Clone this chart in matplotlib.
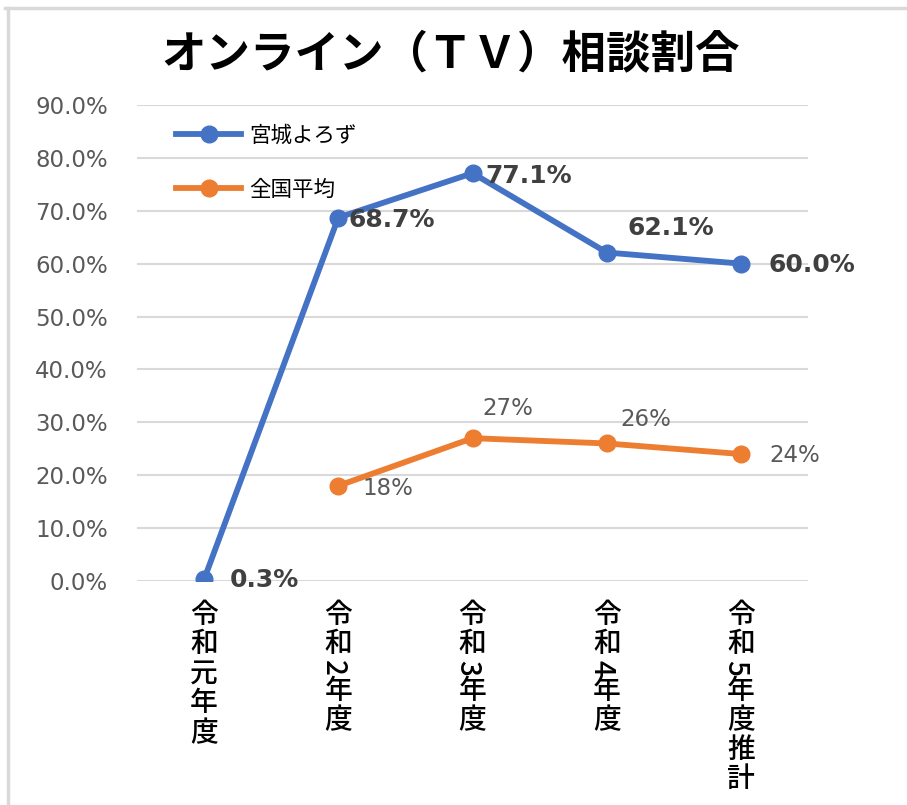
import matplotlib
matplotlib.use("Agg")
import matplotlib.pyplot as plt
from matplotlib.lines import Line2D
import numpy as np

plt.rcParams['font.family'] = ['Noto Sans CJK JP', 'DejaVu Sans']

categories = ["令和元年度", "令和2年度", "令和3年度", "令和4年度", "令和5年度推計"]
miyagi = [0.3, 68.7, 77.1, 62.1, 60.0]
zenkoku = [np.nan, 18, 27, 26, 24]
miyagi_labels = ["0.3%", "68.7%", "77.1%", "62.1%", "60.0%"]
zenkoku_labels = ["", "18%", "27%", "26%", "24%"]
yticks = [0, 10, 20, 30, 40, 50, 60, 70, 80, 90]

BLUE = "#4472C4"
ORANGE = "#ED7D31"
GRAY = "#595959"
PX = 0.72  # points per pixel at dpi 100

fig = plt.figure(figsize=(9.07, 8.05), dpi=100)
ax = fig.add_axes([0.151, 0.2783, 0.74, 0.5913])

x = np.arange(len(categories))
ax.plot(x, miyagi, color=BLUE, lw=4.2, marker='o', ms=12, label="宮城よろず", zorder=3)
ax.plot(x, zenkoku, color=ORANGE, lw=4.2, marker='o', ms=12, label="全国平均", zorder=3)

ax.set_xlim(-0.5, 4.5)
ax.set_ylim(0, 90)
ax.set_yticks(yticks)
ax.set_yticklabels([f"{v:.1f}%" for v in yticks], fontsize=16.5, color=GRAY,
                   family=['DejaVu Sans'])
ax.yaxis.grid(True, color="#D9D9D9", lw=1.5)
ax.set_axisbelow(True)
for s in ax.spines.values():
    s.set_visible(False)
ax.tick_params(length=0)
ax.tick_params(axis='y', pad=21)
ax.set_xticks(x)
ax.set_xticklabels([])

# vertical category labels: CJK upright, digits turned
for i, cat in enumerate(categories):
    y = -19
    for ch in cat:
        if ch.isdigit():
            ax.annotate(ch, (x[i], 0), xycoords=('data', 'axes fraction'),
                        xytext=(-5 * PX, (y - 8.5) * PX), textcoords='offset points',
                        ha='center', va='center', rotation=-90, fontsize=20,
                        fontweight='medium', color='black')
            y -= 17
        else:
            ax.annotate(ch, (x[i], 0), xycoords=('data', 'axes fraction'),
                        xytext=(0, (y - 14.5) * PX), textcoords='offset points',
                        ha='center', va='center', fontsize=20,
                        fontweight='medium', color='black')
            y -= 29.5

# data labels (pixel offsets from the marker)
blue_off = [(26, -1), (10, -2), (13, -3), (21, 25), (27, -1)]
for i, (v, t) in enumerate(zip(miyagi, miyagi_labels)):
    dx, dy = blue_off[i]
    ax.annotate(t, (x[i], v), xytext=(dx * PX, dy * PX), textcoords='offset points',
                ha='left', va='center', fontsize=18, fontweight='bold', color="#404040",
                family=['DejaVu Sans'])
orange_off = [None, (24, -3), (10, 30), (14, 24), (28, -1)]
for i, (v, t) in enumerate(zip(zenkoku, zenkoku_labels)):
    if orange_off[i] is None:
        continue
    dx, dy = orange_off[i]
    ax.annotate(t, (x[i], v), xytext=(dx * PX, dy * PX), textcoords='offset points',
                ha='left', va='center', fontsize=16.5, color=GRAY,
                family=['DejaVu Sans'])

leg = ax.legend(loc='upper left', bbox_to_anchor=(0.03, 1.0), frameon=False,
                fontsize=15.5, handlelength=3.0, labelspacing=1.5, handletextpad=0.4)

fig.text(0.497, 0.932, "オンライン（ＴＶ）相談割合", ha='center', va='center',
         fontsize=32, fontweight='bold', color='black')

# chart frame (top and left edges visible)
fig.add_artist(Line2D([0.006, 1.0], [0.990, 0.990], transform=fig.transFigure,
                      color="#D9D9D9", lw=2.5))
fig.add_artist(Line2D([0.009, 0.009], [0.0, 0.990], transform=fig.transFigure,
                      color="#D9D9D9", lw=2.5))

fig.savefig("out.png", dpi=100, facecolor='white')
